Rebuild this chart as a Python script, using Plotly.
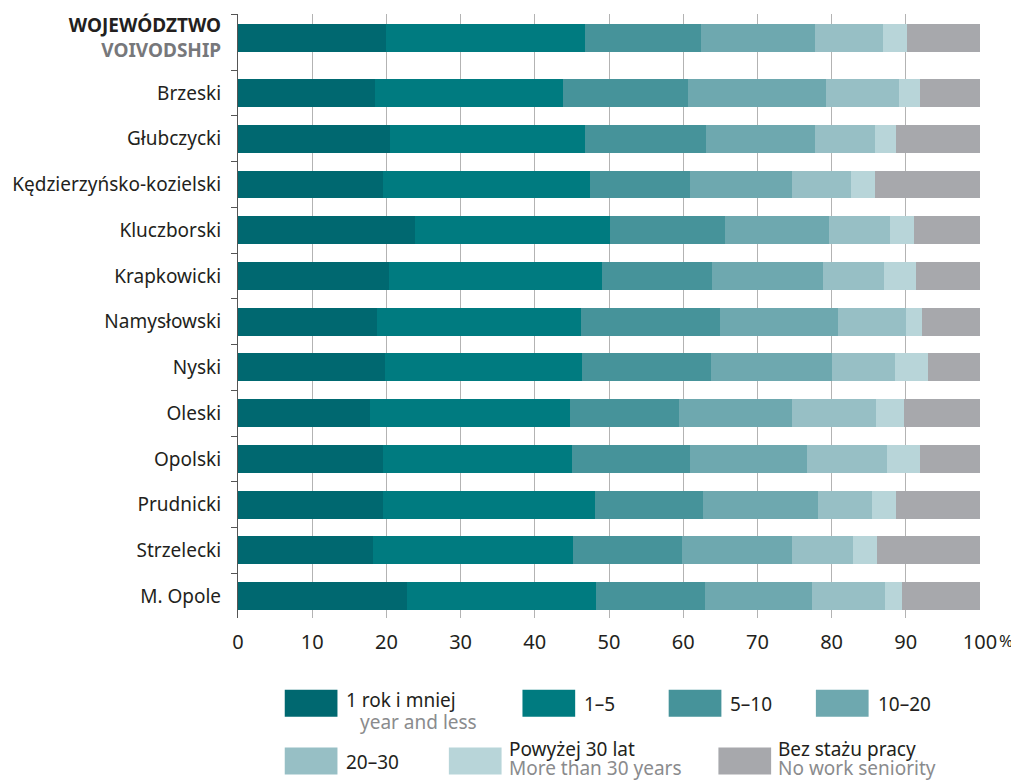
import plotly.graph_objects as go

categories = ["WOJEWÓDZTWO", "Brzeski", "Głubczycki", "Kędzierzyńsko-kozielski", "Kluczborski",
              "Krapkowicki", "Namysłowski", "Nyski", "Oleski", "Opolski", "Prudnicki",
              "Strzelecki", "M. Opole"]

series_names = ["1 rok i mniej", "1–5", "5–10", "10–20", "20–30", "Powyżej 30 lat", "Bez stażu pracy"]
series_names_en = ["year and less", "", "", "", "", "More than 30 years", "No work seniority"]

s_le1 = [20.0, 18.5, 20.5, 19.5, 23.9, 20.3, 18.7, 19.8, 17.8, 19.5, 19.6, 18.2, 22.8]
s_1_5 = [26.7, 25.3, 26.3, 28.0, 26.2, 28.8, 27.5, 26.5, 27.0, 25.5, 28.5, 27.0, 25.4]
s_5_10 = [15.7, 16.9, 16.3, 13.4, 15.5, 14.8, 18.7, 17.4, 14.7, 15.9, 14.6, 14.7, 14.7]
s_10_20 = [15.4, 18.6, 14.7, 13.7, 14.1, 14.9, 16.0, 16.3, 15.2, 15.8, 15.4, 14.8, 14.4]
s_20_30 = [9.1, 9.8, 8.1, 8.0, 8.2, 8.3, 9.1, 8.5, 11.3, 10.8, 7.3, 8.2, 9.9]
s_gt30 = [3.2, 2.8, 2.8, 3.3, 3.2, 4.3, 2.2, 4.5, 3.7, 4.4, 3.3, 3.2, 2.3]
s_none = [9.9, 8.1, 11.3, 14.1, 8.9, 8.6, 7.8, 7.0, 10.3, 8.1, 11.3, 13.9, 10.5]

x_ticks = [0, 10, 20, 30, 40, 50, 60, 70, 80, 90, 100]
x_ticklabels = ["0", "10", "20", "30", "40", "50", "60", "70", "80", "90", "100"]
x_unit = "%"

colors = ["#006870", "#007b80", "#46939a", "#6ea8af", "#97bfc5", "#b8d5d9", "#a7a8ac"]
series = [s_le1, s_1_5, s_5_10, s_10_20, s_20_30, s_gt30, s_none]

FONT = "Noto Sans"
TXT = "#231f20"
GRAY = "#8a8b8d"

# y positions: extra gap after the voivodship row
ypos = [0.0] + [1.21 + i for i in range(len(categories) - 1)]

fig = go.Figure()
for name, vals, col in zip(series_names, series, colors):
    fig.add_trace(go.Bar(
        y=ypos, x=vals, name=name, orientation="h", width=0.61,
        marker=dict(color=col, line=dict(width=0)), hoverinfo="skip", showlegend=False,
    ))

ticktext = ["<b>WOJEWÓDZTWO</b><br><b><span style='color:#77787b'>VOIVODSHIP</span></b>"] + categories[1:]

OFF = 8  # page body margin
W, H = 1019 - OFF, 780 - OFF
L, R, T = 234 - OFF, 39, 12 - OFF
B = H - (618 - OFF)
pw = W - L - R
ph = H - T - B

def px(xp):
    return (xp - OFF - L) / pw

def py(yp):
    return (H - B - (yp - OFF)) / ph

fig.update_layout(
    width=W, height=H,
    margin=dict(l=L, r=R, t=T, b=B),
    barmode="stack",
    plot_bgcolor="white", paper_bgcolor="white",
    font=dict(family=FONT, size=19, color=TXT),
    xaxis=dict(range=[0, 100], tickvals=x_ticks, ticktext=x_ticklabels,
               showgrid=True, gridcolor="#b3b3b3", gridwidth=1.2,
               zeroline=False, showline=False, ticks="outside", ticklen=6,
               tickcolor="rgba(0,0,0,0)", tickfont=dict(size=20, color=TXT, family=FONT)),
    yaxis=dict(range=[12.69, -0.52], tickvals=ypos, ticktext=ticktext,
               showgrid=False, zeroline=False, showline=True, linecolor="#555555", linewidth=1.2,
               ticks="outside", ticklen=12, tickcolor="rgba(0,0,0,0)",
               tickfont=dict(size=19, color=TXT, family=FONT),
               minor=dict(tickvals=[-0.52] + [k + 0.71 for k in range(13)],
                          ticks="outside", ticklen=6, tickcolor="#555555", tickwidth=1.2)),
)

# custom legend
legend_items = [
    (281, 690, 0), (520, 690, 1), (667, 690, 2), (815, 690, 3),
    (281, 748, 4), (446, 748, 5), (717, 748, 6),
]
LF = 19
shapes = []
annotations = []

def note(x, y, text, color, size=LF):
    annotations.append(dict(x=px(x), y=py(y), text=text, xanchor="left", yanchor="middle",
                            showarrow=False, xref="paper", yref="paper",
                            font=dict(size=size, color=color, family=FONT)))

for bx, by, idx in legend_items:
    shapes.append(dict(type="rect", xref="paper", yref="paper",
                       x0=px(bx), x1=px(bx + 53), y0=py(by + 27), y1=py(by),
                       fillcolor=colors[idx], line=dict(width=0)))
    en = series_names_en[idx]
    if idx == 0:
        note(bx + 60, 700, series_names[idx], TXT)
        note(bx + 74, 722, en, GRAY)
    elif en:
        note(bx + 58, 749, series_names[idx], TXT)
        note(bx + 58, 768, en, GRAY)
    else:
        note(bx + 60, by + 14, series_names[idx], TXT)

# unit after the last tick label
note(997, 641, x_unit, TXT, size=17)

fig.update_layout(shapes=shapes, annotations=annotations)
fig.write_html("out.html")
